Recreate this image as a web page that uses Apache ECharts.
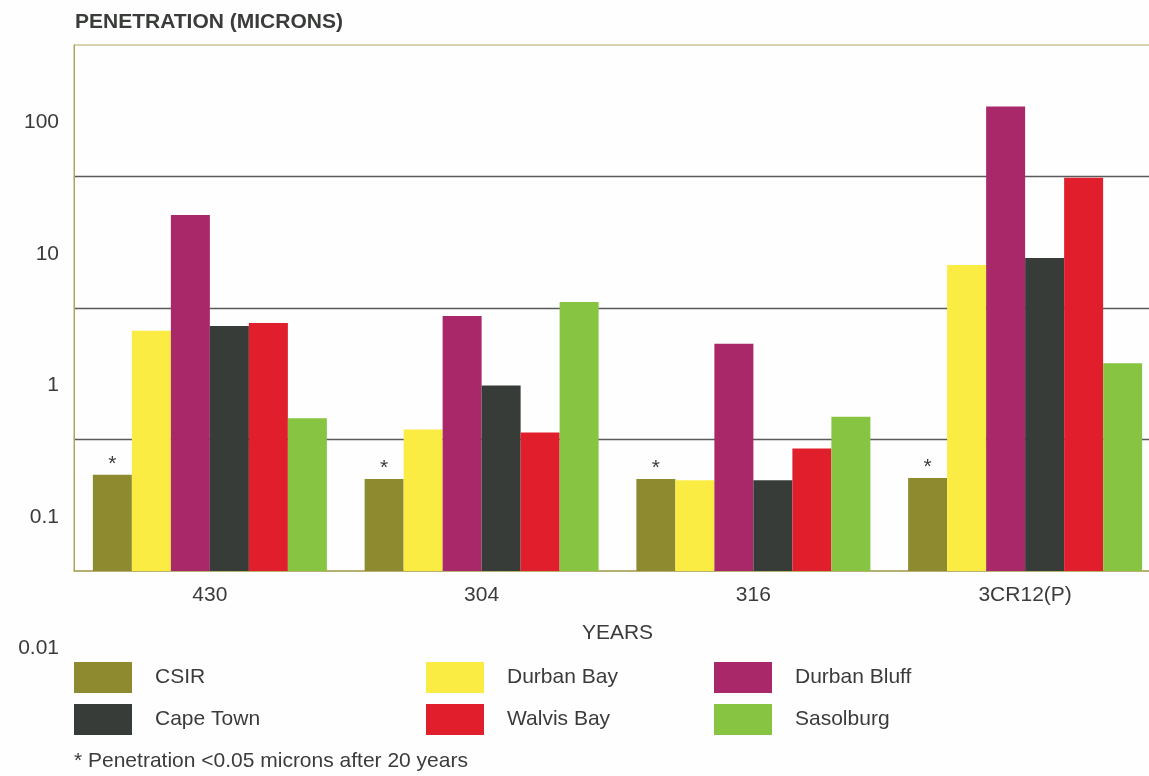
<!DOCTYPE html>
<html>
<head>
<meta charset="utf-8">
<script src="https://cdn.jsdelivr.net/npm/echarts@6/dist/echarts.min.js"></script>
<style>
  html, body { margin: 0; padding: 0; background: #fefefe; }
  #chart { width: 1149px; height: 776px; }
</style>
</head>
<body>
<div id="chart"></div>
<script>
// alloys along the x axis
const categories = ['430', '304', '316', '3CR12(P)']
// penetration in microns
const csir = [0.054, 0.050, 0.050, 0.051]
const durbanBay = [0.67, 0.119, 0.049, 2.12]
const durbanBluff = [5.1, 0.87, 0.534, 34.1]
const capeTown = [0.73, 0.257, 0.049, 2.40]
const walvisBay = [0.77, 0.113, 0.0855, 9.8]
const sasolburg = [0.145, 1.11, 0.149, 0.38]

const textColor = '#3a3c3a'
const olive = '#aca65c'
const font = 'Liberation Sans, Arial, Helvetica, sans-serif'

const chart = echarts.init(document.getElementById('chart'))

const bar = (name, data, color, extra) => Object.assign({
  name: name,
  type: 'bar',
  data: data,
  barWidth: 39,
  barGap: '0%',
  itemStyle: { color: color }
}, extra || {})

// one legend per column, the columns are not evenly spaced
const legendCol = (names, left) => ({
  data: names,
  orient: 'vertical',
  left: left,
  top: 662,
  padding: 0,
  icon: 'rect',
  itemWidth: 58,
  itemHeight: 31,
  itemGap: 11,
  selectedMode: false,
  textStyle: { fontSize: 21, color: textColor, fontFamily: font, padding: [0, 0, 0, 18] }
})

const option = {
  backgroundColor: '#fefefe',
  animation: false,
  textStyle: { fontFamily: font },
  title: {
    text: 'PENETRATION (MICRONS)',
    left: 70,
    top: 7,
    textStyle: { fontSize: 21, fontWeight: 'bold', color: textColor, fontFamily: font }
  },
  legend: [
    legendCol(['CSIR', 'Cape Town'], 74),
    legendCol(['Durban Bay', 'Walvis Bay'], 426),
    legendCol(['Durban Bluff', 'Sasolburg'], 714)
  ],
  grid: {
    left: 74,
    width: 1087, // the plot runs past the right edge of the page
    top: 45,
    bottom: 205,
    outerBoundsMode: 'none',
    show: true,
    borderColor: olive,
    borderWidth: 1,
    backgroundColor: 'transparent'
  },
  graphic: [{
    type: 'text',
    left: 74,
    top: 751,
    style: {
      text: '* Penetration <0.05 microns after 20 years',
      fontSize: 21,
      fontFamily: font,
      fill: textColor
    }
  }],
  xAxis: {
    type: 'category',
    data: categories,
    name: 'YEARS',
    nameLocation: 'middle',
    nameGap: 52,
    nameTextStyle: { fontSize: 21, color: textColor, fontFamily: font },
    axisLine: { lineStyle: { color: olive, width: 1.5 } },
    axisTick: { show: false },
    axisLabel: { fontSize: 21, color: textColor, margin: 14, fontFamily: font }
  },
  yAxis: {
    type: 'log',
    logBase: 10,
    min: 0.01,
    max: 100,
    startValue: 0.01,
    axisLine: { show: true, lineStyle: { color: olive, width: 1 } },
    axisTick: { show: false },
    axisLabel: {
      fontSize: 21,
      color: textColor,
      fontFamily: font,
      margin: 15,
      verticalAlign: 'top',
      padding: [67, 0, 0, 0]
    },
    splitLine: {
      show: true,
      lineStyle: {
        color: ['rgba(0,0,0,0)', '#5a5a5a', '#5a5a5a', '#5a5a5a', 'rgba(0,0,0,0)'],
        width: 1.3
      }
    }
  },
  series: [
    bar('CSIR', csir, '#8d8a30', {
      label: {
        show: true,
        position: 'top',
        distance: 0,
        formatter: '*',
        fontSize: 21,
        color: textColor,
        fontFamily: font
      }
    }),
    bar('Durban Bay', durbanBay, '#fbec44'),
    bar('Durban Bluff', durbanBluff, '#a8286a'),
    bar('Cape Town', capeTown, '#373c38'),
    bar('Walvis Bay', walvisBay, '#e11e2c'),
    bar('Sasolburg', sasolburg, '#86c442')
  ]
}

chart.setOption(option)
</script>
</body>
</html>
